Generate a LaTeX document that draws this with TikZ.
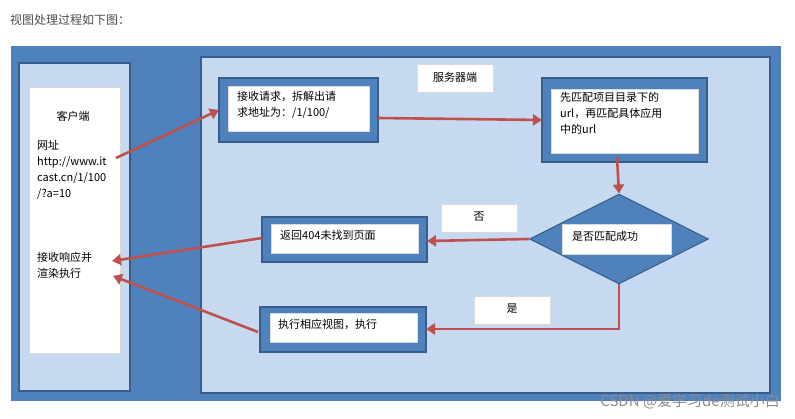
\documentclass[tikz,border=0pt]{standalone}
\usepackage{fontspec}
\setmainfont{Noto Sans CJK SC}
\usetikzlibrary{arrows.meta,shapes.geometric}
\definecolor{dk}{HTML}{4F81BD}
\definecolor{dkb}{HTML}{385D8A}
\definecolor{lt}{HTML}{C6D9F1}
\definecolor{rd}{HTML}{C0504D}
\begin{document}
\begin{tikzpicture}[x=1pt,y=-1pt,
  panel/.style={fill=lt,draw=dkb,line width=1.5pt},
  obox/.style={fill=dk,draw=dkb,line width=1.5pt},
  wbox/.style={fill=white,draw=black!15,line width=0.5pt},
  txt/.style={font=\fontsize{11}{16}\selectfont,align=left,anchor=north west,inner sep=0pt},
  arr/.style={draw=rd,line width=2.6pt,-{Triangle[length=9pt,width=11pt]}}]
\useasboundingbox (0,0) rectangle (795,419);
\fill[white] (0,0) rectangle (795,419);
\node[anchor=west,inner sep=0pt,text=black!70,font=\fontsize{12}{14}\selectfont] (title) at (10,20) {视图处理过程如下图：};
\fill[dk] (11,46) rectangle (781,401);
% client
\draw[panel] (19,63) rectangle (130,391);
\draw[wbox] (29,87) rectangle (120,353);
\node[txt,anchor=center] (client) at (73,116) {客户端};
\node[txt] (url) at (37,140) {网址\\http://www.it\\cast.cn/1/100\\/?a=10};
\node[txt] (recv) at (37,252) {接收响应并\\渲染执行};
% server
\draw[panel] (201,57) rectangle (770,393);
\draw[wbox] (417,64) rectangle (493,92);
\node[txt,anchor=center] (srv) at (455,77) {服务器端};
% box1
\draw[obox] (219,78) rectangle (378,142);
\draw[wbox] (228,86) rectangle (369,131);
\node[txt] (b1) at (237,91) {接收请求，拆解出请\\求地址为：/1/100/};
% box2
\draw[obox] (542,78) rectangle (707,162);
\draw[wbox] (551,89) rectangle (698,153);
\node[txt] (b2) at (560,92) {先匹配项目目录下的\\url，再匹配具体应用\\中的url};
% diamond
\node[diamond,fill=dk,draw=dkb,line width=1pt,minimum width=179pt,minimum height=90pt,inner sep=0pt,aspect=2] (dia) at (619,239) {};
\draw[wbox] (562,224) rectangle (671,254);
\node[txt] (dt) at (572,231) {是否匹配成功};
% labels
\draw[wbox] (441,204) rectangle (517,232);
\node[txt,anchor=center] (no) at (479,217) {否};
\draw[wbox] (474,296) rectangle (550,324);
\node[txt,anchor=center] (yes) at (512,309) {是};
% box3
\draw[obox] (262,217) rectangle (427,262);
\draw[wbox] (271,224) rectangle (418,253);
\node[txt] (b3) at (280,230) {返回404未找到页面};
% box4
\draw[obox] (260,307) rectangle (426,352);
\draw[wbox] (270,313) rectangle (417,342);
\node[txt] (b4) at (278,319) {执行相应视图，执行};
% arrows
\coordinate (p1) at (116,158); \coordinate (q1) at (219,110);
\coordinate (p2) at (378,118); \coordinate (q2) at (542,120);
\coordinate (p3) at (617,157);
\coordinate (q4) at (427,241);
\coordinate (p5) at (262,238); \coordinate (q5) at (112,261);
\coordinate (p6) at (619,329); \coordinate (q6) at (426,329);
\coordinate (p7) at (258,332); \coordinate (q7) at (113,276);
\draw[arr] (p1) -- (q1);
\draw[arr] (p2) -- (q2);
\draw[arr] (p3) -- (dia.north);
\draw[arr] (dia.west) -- (q4);
\draw[arr] (p5) -- (q5);
\draw[arr] (dia.south) -- (p6) -- (q6);
\draw[arr] (p7) -- (q7);
\node[anchor=east,inner sep=0pt,text=black!45,font=\fontsize{15}{16}\selectfont] (wm) at (780,401) {CSDN @爱学习de测试小白};
\end{tikzpicture}
\end{document}
